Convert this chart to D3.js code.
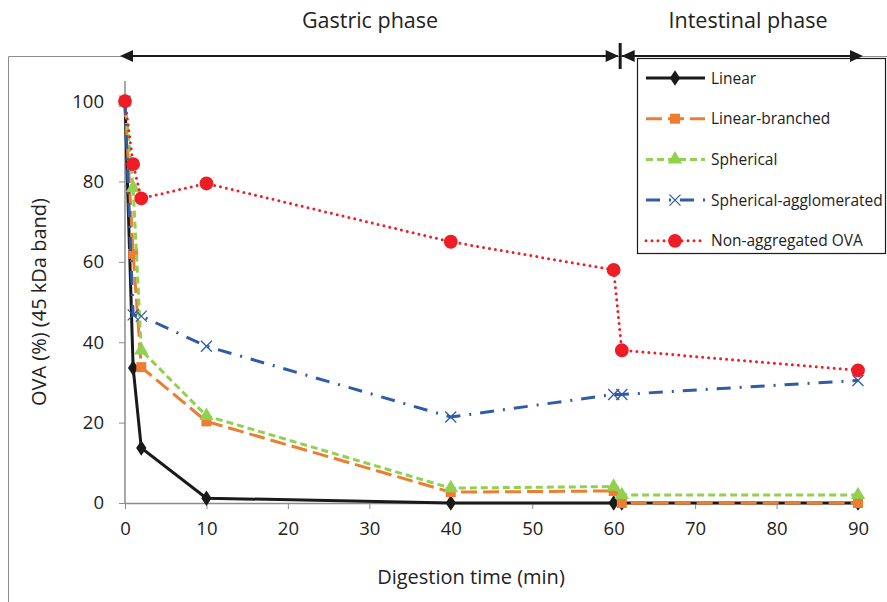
<!DOCTYPE html>
<html>
<head>
<meta charset="utf-8">
<script src="https://cdn.jsdelivr.net/npm/d3@7"></script>
<style>
  body { margin: 0; background: #fff; }
  text { font-family: "Open Sans", sans-serif; fill: #222; }
  .tick text { font-size: 18.5px; }
</style>
</head>
<body>
<div class="chart"></div>
<script>
// sampling times (min)
const times = [0, 1, 2, 10, 40, 60, 61, 90];

const linear = [100, 33.6, 13.7, 1.2, 0, 0, 0, 0];
const linearBranched = [100, 62, 33.8, 20.3, 2.7, 3, 0, 0];
const spherical = [100, 78.4, 38, 21.7, 3.7, 4.1, 2, 2];
const sphericalAgglomerated = [100, 46.8, 46.5, 39, 21.4, 27, 27, 30.5];
const nonAggregated = [100, 84.3, 75.8, 79.5, 65, 58, 38, 33];

const seriesNames = ['Linear', 'Linear-branched', 'Spherical', 'Spherical-agglomerated', 'Non-aggregated OVA'];
const xTicks = [0, 10, 20, 30, 40, 50, 60, 70, 80, 90];
const yTicks = [0, 20, 40, 60, 80, 100];
const phases = ['Gastric phase', 'Intestinal phase'];

const width = 887, height = 602;
const margin = {left: 125, right: 29, top: 81, bottom: 99};

const svg = d3.select('.chart').append('svg')
    .attr('width', width)
    .attr('height', height);

// outer chart frame (cut off at right/bottom)
svg.append('path')
    .attr('d', `M8.5,${height} V56.5 H${width}`)
    .attr('fill', 'none')
    .attr('stroke', '#8c8c8c')
    .attr('stroke-width', 1);

const x = d3.scaleLinear().domain([0, 90]).range([margin.left, width - margin.right]);
const y = d3.scaleLinear().domain([0, 105]).range([height - margin.bottom, margin.top]);

// axes
const xAxis = svg.append('g')
    .attr('transform', `translate(0,${y(0)})`)
    .call(d3.axisBottom(x).tickValues(xTicks).tickSize(6).tickPadding(13).tickSizeOuter(0));
const yAxis = svg.append('g')
    .attr('transform', `translate(${x(0)},0)`)
    .call(d3.axisLeft(y).tickValues(yTicks).tickSize(6).tickPadding(15).tickSizeOuter(0));

[xAxis, yAxis].forEach(a => {
    a.attr('font-size', 18.5).attr('font-family', '"Open Sans", sans-serif');
    a.select('.domain').attr('stroke', '#8c8c8c').attr('stroke-width', 1.5);
    a.selectAll('.tick line').attr('stroke', '#8c8c8c');
    a.selectAll('.tick text').attr('fill', '#222');
});
// y axis goes to the top of the plot
yAxis.select('.domain').attr('d', `M0,${y(0)}V${y(105)}`);

svg.append('text')
    .attr('x', 471).attr('y', 584)
    .attr('text-anchor', 'middle')
    .style('font-size', '20px')
    .text('Digestion time (min)');

svg.append('text')
    .attr('transform', `translate(46,${y(50)}) rotate(-90)`)
    .attr('text-anchor', 'middle')
    .style('font-size', '20px')
    .text('OVA (%) (45 kDa band)');

// series styles
const styles = [
    {data: linear, color: '#1a1a1a', dash: null, marker: 'diamond', size: 70},
    {data: linearBranched, color: '#ed7d31', dash: '16,6', marker: 'square', size: 100},
    {data: spherical, color: '#92d050', dash: '7,4', marker: 'triangle', size: 90},
    {data: sphericalAgglomerated, color: '#2f5ba7', dash: '14,9,2,9', marker: 'cross', size: 0},
    {data: nonAggregated, color: '#ee1c25', dash: '0,6', marker: 'circle', size: 150}
];

const line = d3.line().x(d => x(d[0])).y(d => y(d[1]));

function drawMarker(g, type, color, size, px, py) {
    if (type === 'cross') {
        const r = 5.5;
        g.append('path')
            .attr('d', `M${px - r},${py - r}L${px + r},${py + r}M${px - r},${py + r}L${px + r},${py - r}`)
            .attr('stroke', color).attr('stroke-width', 1.3).attr('fill', 'none');
        return;
    }
    const sym = {
        diamond: d3.symbolDiamond,
        square: d3.symbolSquare,
        triangle: d3.symbolTriangle,
        circle: d3.symbolCircle
    }[type];
    g.append('path')
        .attr('d', d3.symbol().type(sym).size(size)())
        .attr('transform', `translate(${px},${py})` + (type === 'diamond' ? ' scale(1.15,1)' : ''))
        .attr('fill', color);
}

styles.forEach(s => {
    const pts = times.map((t, i) => [t, s.data[i]]);
    const g = svg.append('g');
    g.append('path')
        .attr('d', line(pts))
        .attr('fill', 'none')
        .attr('stroke', s.color)
        .attr('stroke-width', 3)
        .attr('stroke-linecap', s.marker === 'circle' ? 'round' : 'butt')
        .attr('stroke-dasharray', s.dash);
    pts.forEach(p => drawMarker(g, s.marker, s.color, s.size, x(p[0]), y(p[1])));
});

// legend
const legend = svg.append('g');
legend.append('rect')
    .attr('x', 637.5).attr('y', 58.5)
    .attr('width', 248).attr('height', 195)
    .attr('fill', '#fff')
    .attr('stroke', '#1a1a1a').attr('stroke-width', 1.2);

styles.forEach((s, i) => {
    const ly = 78 + i * 40.7;
    const g = legend.append('g');
    g.append('path')
        .attr('d', `M646,${ly}H705`)
        .attr('stroke', s.color)
        .attr('stroke-width', 3)
        .attr('stroke-linecap', s.marker === 'circle' ? 'round' : 'butt')
        .attr('stroke-dasharray', s.dash);
    drawMarker(g, s.marker, s.color, s.size, 675, ly);
    g.append('text')
        .attr('x', 711).attr('y', ly + 5.5)
        .style('font-size', '15.5px')
        .text(seriesNames[i]);
});

// phase arrows
const arrowY = 56;
function arrowHead(px, dir) {
    svg.append('path')
        .attr('d', `M${px},${arrowY} l${-dir * 13},-6 v12 Z`)
        .attr('fill', '#1a1a1a');
}
svg.append('line')
    .attr('x1', x(0)).attr('x2', x(60) + 4)
    .attr('y1', arrowY).attr('y2', arrowY)
    .attr('stroke', '#1a1a1a').attr('stroke-width', 2);
svg.append('line')
    .attr('x1', x(60) + 8).attr('x2', x(90) + 2)
    .attr('y1', arrowY).attr('y2', arrowY)
    .attr('stroke', '#1a1a1a').attr('stroke-width', 2);
arrowHead(x(0) - 5, -1);
arrowHead(x(60) + 5, 1);
arrowHead(x(60) + 8, -1);
arrowHead(x(90) + 5, 1);
svg.append('line')
    .attr('x1', x(60) + 6.5).attr('x2', x(60) + 6.5)
    .attr('y1', 43).attr('y2', 69)
    .attr('stroke', '#1a1a1a').attr('stroke-width', 3);

svg.append('text')
    .attr('x', 370).attr('y', 28)
    .attr('text-anchor', 'middle')
    .style('font-size', '21.5px')
    .text(phases[0]);
svg.append('text')
    .attr('x', 748).attr('y', 28)
    .attr('text-anchor', 'middle')
    .style('font-size', '21.5px')
    .text(phases[1]);
</script>
</body>
</html>
